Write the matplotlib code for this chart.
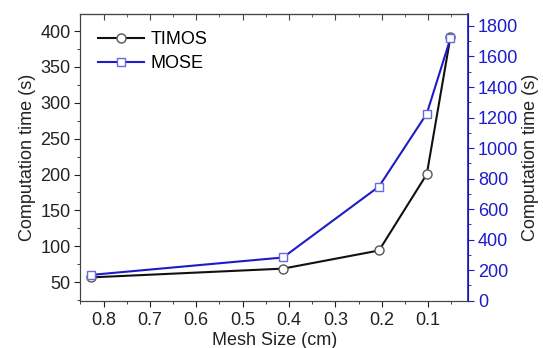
import matplotlib.pyplot as plt
from matplotlib.ticker import MultipleLocator

plt.rcParams["font.family"] = ["Liberation Sans", "DejaVu Sans"]

mesh_size = [0.826, 0.413, 0.206, 0.103, 0.052]
timos_time = [56.5, 68.7, 94.0, 200.4, 392.0]
mose_time = [169, 283, 748, 1226, 1719]

blue = "#1c1cc8"
text_color = "#222222"
fs = 13

fig = plt.figure(figsize=(5.43, 3.48), dpi=100)
ax = fig.add_axes([0.148, 0.136, 0.714, 0.824])
ax2 = ax.twinx()

(l1,) = ax.plot(
    mesh_size, timos_time, color="#111111", linewidth=1.5, marker="o",
    markersize=6.5, markerfacecolor="white", markeredgecolor="#555555",
    markeredgewidth=1.0, label="TIMOS", zorder=3,
)
(l2,) = ax2.plot(
    mesh_size, mose_time, color=blue, linewidth=1.5, marker="s",
    markersize=6, markerfacecolor="white", markeredgecolor="#6a6ae0",
    markeredgewidth=1.0, label="MOSE",
)

ax.set_xlim(0.85, 0.014)
ax.set_ylim(24, 424)
ax2.set_ylim(0, 1879)

ax.set_xticks([0.8, 0.7, 0.6, 0.5, 0.4, 0.3, 0.2, 0.1])
ax.set_xticklabels(["0.8", "0.7", "0.6", "0.5", "0.4", "0.3", "0.2", "0.1"])
ax.xaxis.set_minor_locator(MultipleLocator(0.05))
ax.yaxis.set_major_locator(MultipleLocator(50))
ax.yaxis.set_minor_locator(MultipleLocator(25))
ax2.yaxis.set_major_locator(MultipleLocator(200))
ax2.yaxis.set_minor_locator(MultipleLocator(100))

ax.tick_params(axis="x", which="both", direction="out", labelsize=fs,
               colors=text_color, pad=4)
ax.tick_params(axis="x", which="major", length=4)
ax.tick_params(axis="x", which="minor", length=2.5)
ax.tick_params(axis="y", which="both", direction="out", labelsize=fs,
               colors=text_color, pad=3)
ax.tick_params(axis="y", which="major", length=4)
ax.tick_params(axis="y", which="minor", length=2.5)
ax2.tick_params(axis="y", which="both", direction="out", labelsize=fs,
                colors=blue, pad=3)
ax2.tick_params(axis="y", which="major", length=4)
ax2.tick_params(axis="y", which="minor", length=2.5)

# top ticks point inward
top = ax.secondary_xaxis("top")
top.set_xticks([0.8, 0.7, 0.6, 0.5, 0.4, 0.3, 0.2, 0.1])
top.xaxis.set_minor_locator(MultipleLocator(0.05))
top.tick_params(axis="x", which="both", direction="in", labeltop=False,
                colors="#444444")
top.tick_params(axis="x", which="major", length=4)
top.tick_params(axis="x", which="minor", length=2.5)
top.spines["top"].set_color("#444444")

ax2.spines["right"].set_color(blue)
ax2.spines["right"].set_linewidth(1.2)
for side in ["left", "bottom", "top"]:
    ax.spines[side].set_color("#444444")
    ax2.spines[side].set_color("#444444")

ax.set_xlabel("Mesh Size (cm)", fontsize=fs, color=text_color, labelpad=2)
ax.set_ylabel("Computation time (s)", fontsize=fs, color=text_color,
              labelpad=3)
ax2.set_ylabel("Computation time (s)", fontsize=fs, color=text_color,
               labelpad=3)

ax.legend([l1, l2], ["TIMOS", "MOSE"], loc="upper left", frameon=False,
          fontsize=fs, handlelength=2.6, borderaxespad=0.55,
          labelspacing=0.4, handletextpad=0.35)

fig.savefig("out.png", dpi=100)
